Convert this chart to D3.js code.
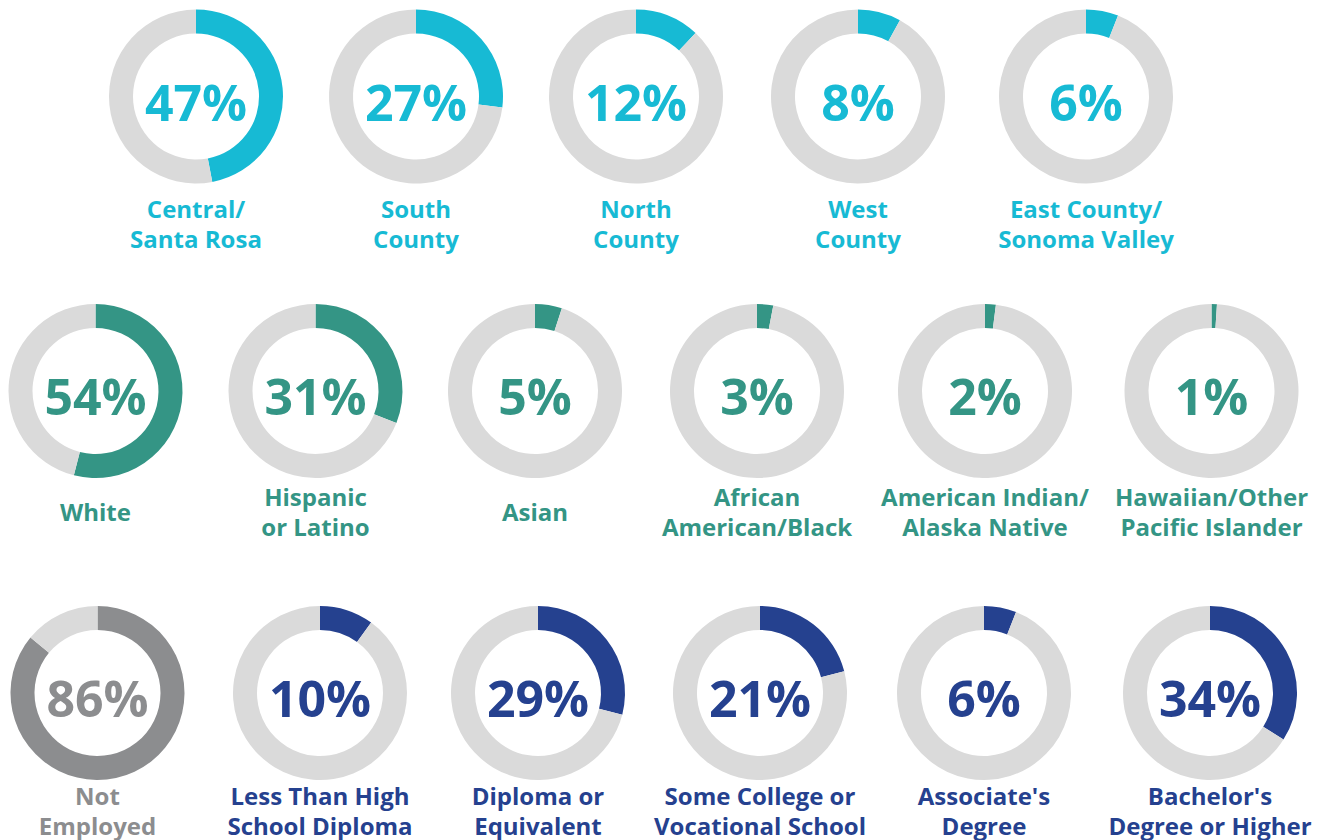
<!DOCTYPE html>
<html>
<head>
<meta charset="utf-8">
<script src="https://cdn.jsdelivr.net/npm/d3@7"></script>
<style>
  html, body { margin: 0; padding: 0; background: #fff; }
  svg { display: block; }
  text { font-family: "Open Sans", "Noto Sans", sans-serif; font-weight: 700; }
</style>
</head>
<body>
<div id="chart"></div>
<script>
// Region
const regionNames = ["Central/\nSanta Rosa", "South\nCounty", "North\nCounty", "West\nCounty", "East County/\nSonoma Valley"];
const regionValues = [47, 27, 12, 8, 6];

// Race / ethnicity
const raceNames = ["White", "Hispanic\nor Latino", "Asian", "African\nAmerican/Black", "American Indian/\nAlaska Native", "Hawaiian/Other\nPacific Islander"];
const raceValues = [54, 31, 5, 3, 2, 1];

// Employment + education
const eduNames = ["Not\nEmployed", "Less Than High\nSchool Diploma", "Diploma or\nEquivalent", "Some College or\nVocational School", "Associate's\nDegree", "Bachelor's\nDegree or Higher"];
const eduValues = [86, 10, 29, 21, 6, 34];

const width = 1318, height = 840;
const outerR = 87, innerR = 63;
const trackColor = "#dadada";

// layout of each row (column centres measured from the layout grid)
const rows = [
  { names: regionNames, values: regionValues, cy: 96.5, labelY: 218,
    cols: [196, 416, 636, 858, 1086], colors: d3.range(5).map(() => "#17bad4") },
  { names: raceNames, values: raceValues, cy: 391, labelY: 506,
    cols: [95.5, 315.5, 535, 757, 985, 1211.5], colors: d3.range(6).map(() => "#349585") },
  { names: eduNames, values: eduValues, cy: 693, labelY: 805,
    cols: [97.5, 320, 538, 760, 984, 1210], colors: ["#8c8d8f"].concat(d3.range(5).map(() => "#25418f")) }
];

const svg = d3.select("#chart").append("svg")
  .attr("width", width)
  .attr("height", height);

const pie = d3.pie().sort(null).value(d => d);
const arc = d3.arc().innerRadius(innerR).outerRadius(outerR);

rows.forEach(row => {
  row.values.forEach((v, i) => {
    const color = row.colors[i];
    const g = svg.append("g")
      .attr("transform", `translate(${row.cols[i]},${row.cy})`);

    g.selectAll("path")
      .data(pie([v, 100 - v]))
      .join("path")
      .attr("d", arc)
      .attr("fill", (d, j) => j === 0 ? color : trackColor);

    g.append("text")
      .attr("text-anchor", "middle")
      .attr("y", 24)
      .attr("fill", color)
      .style("font-size", "50px")
      .text(v + "%");

    const lines = row.names[i].split("\n");
    const lbl = svg.append("text")
      .attr("text-anchor", "middle")
      .attr("fill", color)
      .style("font-size", "24px");
    const y0 = row.labelY + (lines.length === 1 ? 15 : 0);
    lines.forEach((line, k) => {
      lbl.append("tspan")
        .attr("x", row.cols[i])
        .attr("y", y0 + k * 29.5)
        .text(line);
    });
  });
});
</script>
</body>
</html>
